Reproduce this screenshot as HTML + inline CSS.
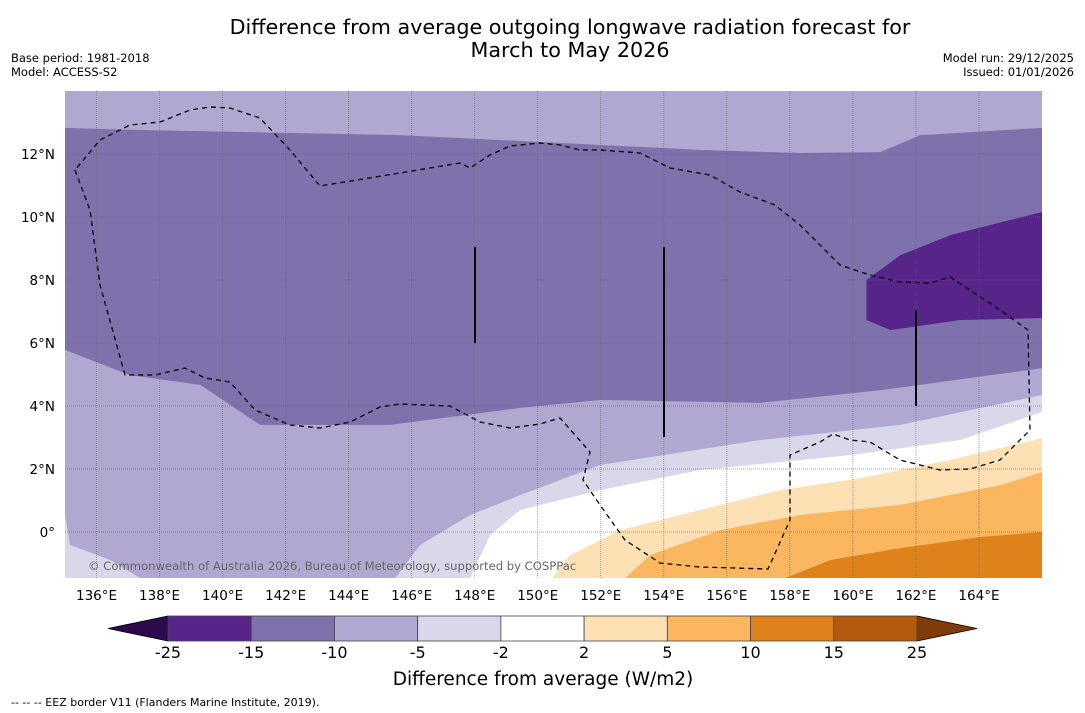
<!DOCTYPE html>
<html><head><meta charset="utf-8"><style>
body{margin:0;background:#fff;}
svg{display:block;font-family:"DejaVu Sans","Liberation Sans",sans-serif;}
</style></head><body>
<svg id="c" width="1085" height="713">
<text x="570" y="34" font-size="20.7" text-anchor="middle">Difference from average outgoing longwave radiation forecast for</text>
<text x="570" y="57" font-size="20.7" text-anchor="middle">March to May 2026</text>
<text x="11" y="62" font-size="11.5">Base period: 1981-2018</text>
<text x="11" y="76" font-size="11.5">Model: ACCESS-S2</text>
<text x="1074" y="62" font-size="11.5" text-anchor="end">Model run: 29/12/2025</text>
<text x="1074" y="76" font-size="11.5" text-anchor="end">Issued: 01/01/2026</text>
<g id="map"></g>
<g id="cb"></g>
<text x="543" y="685" font-size="18.5" text-anchor="middle">Difference from average (W/m2)</text>
<text x="11" y="706" font-size="11">--  --  -- EEZ border V11 (Flanders Marine Institute, 2019).</text>
</svg>
<script>
const levels=[-25,-15,-10,-5,-2,2,5,10,15,25];
const colors=["#57258a","#7f72ac","#b0a8d0","#d8d8ea","#ffffff","#fde0b4","#fbb660","#e0821b","#b25a0e"];
const lonTicks=[136,138,140,142,144,146,148,150,152,154,156,158,160,162,164];
const latTicks=[0,2,4,6,8,10,12];
const lonMin=135,lonMax=166,latMin=-1.46,latMax=14;
// filled contour regions [lon,lat] with colour index
const regMedium=[[135,12.83],[137.38,12.76],[145.63,12.6],[150.71,12.35],[155.16,12.13],[158.33,12.03],[160.87,12.06],[162.14,12.6],[166,12.83],[166,5.2],[160.87,4.5],[157.06,4.1],[151.98,4.19],[149.44,3.94],[145.32,3.4],[141.19,3.4],[139.29,4.67],[137.06,4.98],[135,5.78]];
const regDark=[[160.43,8.0],[161.51,8.79],[163.1,9.43],[166,10.16],[166,6.79],[163.41,6.73],[161.19,6.41],[160.43,6.73]];
const regLightest=[[145.48,-1.46],[146.27,-0.41],[147.86,0.54],[149.44,1.17],[151.98,2.13],[157.06,2.92],[161.51,3.4],[166,4.35],[166,-1.46]];
const regCorner=[[135,0.54],[135.16,-0.41],[136.43,-0.89],[137.38,-1.46],[135,-1.46]];
const regWhite=[[147.86,-1.46],[148.49,-0.1],[149.44,0.7],[151.98,1.33],[155.16,1.97],[159.92,2.44],[163.41,2.92],[166,3.81],[166,-1.46]];
const regLOrange=[[150.46,-1.46],[151.03,-0.73],[152.62,0.06],[155.16,0.7],[157.7,1.33],[160.24,1.71],[163.1,2.29],[166,2.98],[166,-1.46]];
const regOrange=[[152.78,-1.46],[153.57,-0.73],[155.79,0.06],[158.33,0.54],[161.51,0.86],[164.68,1.49],[166,1.9],[166,-1.46]];
const regDOrange=[[157.86,-1.46],[159.29,-0.89],[161.51,-0.51],[164.05,-0.16],[166,0],[166,-1.46]];
const regions=[[regMedium,1],[regDark,0],[regLightest,3],[regCorner,3],[regWhite,4],[regLOrange,5],[regOrange,6],[regDOrange,7]];
const x0=65,x1=1042,y0=91,y1=578;
const X=l=>x0+(l-lonMin)/(lonMax-lonMin)*(x1-x0);
const Y=l=>y1-(l-latMin)/(latMax-latMin)*(y1-y0);
const NS="http://www.w3.org/2000/svg";
function mk(t,p,a){const e=document.createElementNS(NS,t);for(const k in a)e.setAttribute(k,a[k]);p.appendChild(e);return e;}
const map=document.getElementById('map');
let e=mk('rect',map,{x:x0,y:y0,width:x1-x0,height:y1-y0,fill:colors[2]});


regions.forEach(([pts,ci],i)=>{
 const p=mk('polygon',map,{points:pts.map(q=>X(q[0])+','+Y(q[1])).join(' '),fill:colors[ci]});
 
 
});
lonTicks.forEach(l=>{
 const g=mk('line',map,{x1:X(l),x2:X(l),y1:y0,y2:y1,stroke:'#666',"stroke-width":0.7,"stroke-dasharray":"1,1",opacity:0.8});
 
 
 const t=mk('text',map,{x:X(l),y:600,"font-size":13.5,"text-anchor":"middle"});t.textContent=l+'°E';
 
 
});
latTicks.forEach(l=>{
 const g=mk('line',map,{x1:x0,x2:x1,y1:Y(l),y2:Y(l),stroke:'#666',"stroke-width":0.7,"stroke-dasharray":"1,1",opacity:0.8});
 
 
 const t=mk('text',map,{x:55,y:Y(l)+5,"font-size":13.5,"text-anchor":"end"});t.textContent=l===0?'0°':l+'°N';
 
 
});
const eez="M75,170 L90,210 L100,285 L125,375 L155,375 L185,368 L205,378 L230,382 L255,410 L290,425 L320,428 L350,422 L380,407 L400,404 L450,406 L480,422 L510,428 L540,424 L560,418 L575,435 L590,452 L583,480 L600,505 L625,540 L660,563 L700,567 L768,569 L790,520 L790,455 L820,442 L833,434 L850,440 L870,442 L900,460 L940,470 L970,469 L1000,460 L1030,430 L1028,330 L1000,310 L950,277 L930,283 L900,282 L870,275 L840,265 L800,225 L775,205 L740,192 L710,175 L670,168 L640,153 L600,150 L580,150 L560,145 L540,143 L510,146 L490,155 L470,168 L460,163 L400,173 L320,186 L290,150 L260,118 L230,108 L210,107 L190,110 L160,122 L130,125 L100,140 Z";
e=mk('path',map,{d:eez,fill:'none',stroke:'#000',"stroke-width":1.3,"stroke-dasharray":"5,4"});


[[475,247,343],[664,247,437],[916,310,406]].forEach(v=>{
 const l=mk('line',map,{x1:v[0],x2:v[0],y1:v[1],y2:v[2],stroke:'#000',"stroke-width":2});
 
 
});
e=mk('text',map,{x:88,y:570,"font-size":11.6,fill:'#666'});e.textContent='© Commonwealth of Australia 2026, Bureau of Meteorology, supported by COSPPac';


const cb=document.getElementById('cb');
const cbx0=168,cbx1=917,cby=616,cbh=25,n=levels.length-1,w=(cbx1-cbx0)/n;
e=mk('polygon',cb,{points:`108,${cby+cbh/2} ${cbx0},${cby} ${cbx0},${cby+cbh}`,fill:'#2d0a4e',stroke:'#000',"stroke-width":0.8});


e=mk('polygon',cb,{points:`977,${cby+cbh/2} ${cbx1},${cby} ${cbx1},${cby+cbh}`,fill:'#7f3b08',stroke:'#000',"stroke-width":0.8});


for(let i=0;i<n;i++){
 const r=mk('rect',cb,{x:cbx0+i*w,y:cby,width:w,height:cbh,fill:colors[i],stroke:'#444',"stroke-width":0.8});
 
 
}
levels.forEach((v,i)=>{
 const t=mk('text',cb,{x:cbx0+i*w,y:658,"font-size":16,"text-anchor":"middle"});t.textContent=v;
 
 
});
</script>
</body></html>
